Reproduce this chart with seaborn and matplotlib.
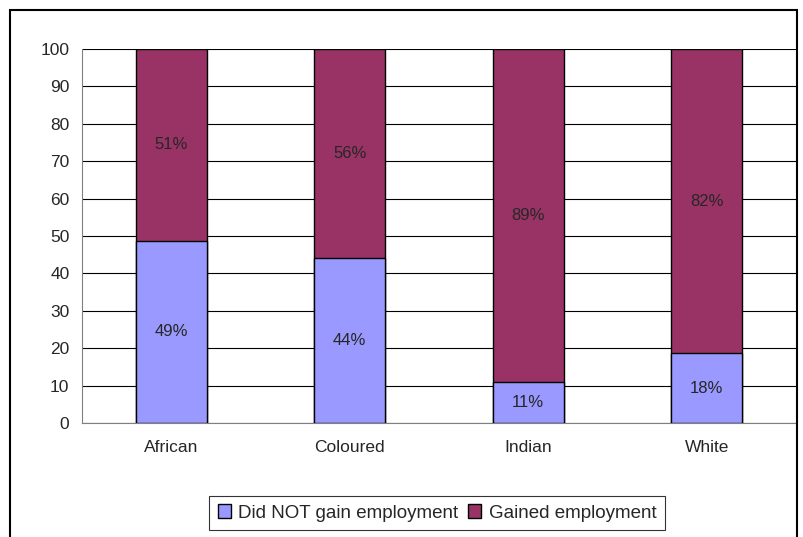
import seaborn as sns
import matplotlib.pyplot as plt
import pandas as pd
from matplotlib.patches import Rectangle

groups = ['African', 'Coloured', 'Indian', 'White']
not_gained = [48.7, 44.1, 11.0, 18.6]
gained = [51.3, 55.9, 89.0, 81.4]
not_gained_labels = ['49%', '44%', '11%', '18%']
gained_labels = ['51%', '56%', '89%', '82%']

blue = '#9999FF'
maroon = '#993366'

df = pd.DataFrame({'group': groups, 'not_gained': not_gained, 'gained': gained})
df['total'] = df['not_gained'] + df['gained']

sns.set_style('white')
plt.rcParams['font.family'] = ['Liberation Sans', 'DejaVu Sans']

fig = plt.figure(figsize=(8.04, 5.37), dpi=100)
ax = fig.add_axes([82 / 804, 1 - 423 / 537, 714 / 804, 374 / 537])

# stacked bars: full height first, then the lower part on top
sns.barplot(data=df, x='group', y='total', color=maroon, width=0.4,
            edgecolor='black', linewidth=1, saturation=1, ax=ax, zorder=3,
            label='Gained employment')
sns.barplot(data=df, x='group', y='not_gained', color=blue, width=0.4,
            edgecolor='black', linewidth=1, saturation=1, ax=ax, zorder=3,
            label='Did NOT gain employment')
if ax.get_legend() is not None:
    ax.get_legend().remove()

for i in range(len(groups)):
    ax.text(i, not_gained[i] / 2, not_gained_labels[i], ha='center', va='center',
            fontsize=12, zorder=4)
    ax.text(i, not_gained[i] + gained[i] / 2, gained_labels[i], ha='center',
            va='center', fontsize=12, zorder=4)

ax.set_ylim(0, 100)
ax.set_xlim(-0.5, 3.5)
ax.set_yticks(range(0, 101, 10))
ax.yaxis.grid(True, color='black', linewidth=0.8, zorder=0)
ax.set_axisbelow(True)
for s in ['top', 'right']:
    ax.spines[s].set_visible(False)
ax.spines['left'].set_color('#808080')
ax.spines['bottom'].set_color('#808080')
ax.set_xticks([-0.5, 0.5, 1.5, 2.5, 3.5], minor=True)
ax.tick_params(axis='x', which='major', length=0, pad=12, labelsize=12.5)
ax.tick_params(axis='x', which='minor', length=5, color='#808080', direction='in')
ax.tick_params(axis='y', length=5, color='#808080', direction='out', labelsize=12.5, pad=4)
ax.set_xlabel('')
ax.set_ylabel('')

handles, labels = ax.get_legend_handles_labels()
order = [labels.index('Did NOT gain employment'), labels.index('Gained employment')]
leg = fig.legend([handles[i] for i in order], [labels[i] for i in order],
                 loc='center', bbox_to_anchor=(437 / 804, 1 - 513 / 537), ncol=2,
                 fontsize=13.5, frameon=True, fancybox=False, edgecolor='black',
                 handlelength=0.7, handleheight=0.7, handletextpad=0.4,
                 columnspacing=0.5, borderpad=0.45)
leg.get_frame().set_linewidth(0.8)

fig.patches.append(Rectangle((10 / 804, -0.1), 787 / 804, 1.1 - 10 / 537,
                             transform=fig.transFigure, fill=False,
                             edgecolor='black', linewidth=1.5))

fig.savefig('out.png', dpi=100)
